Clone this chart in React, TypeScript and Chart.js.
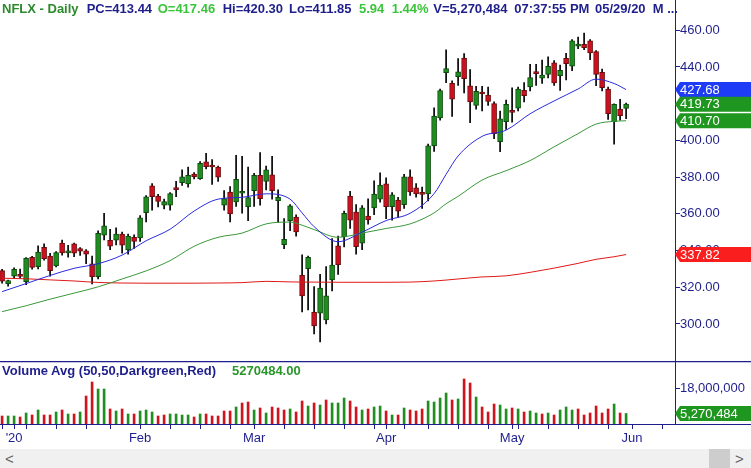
import React, { useEffect, useRef } from "react";
import { Chart, registerables } from "chart.js";
Chart.register(...registerables);

// ---------- data ----------
const opens = [
  329.0, 322.0, 326.0, 326.8, 323.0, 336.3, 331.2, 341.8, 337.0, 331.6,
  344.0, 338.7, 343.6, 341.0, 339.8, 332.7, 325.8, 348.3, 345.6, 345.6,
  349.0, 340.3, 347.2, 346.9, 360.6, 375.2, 369.7, 364.7, 364.7, 373.5,
  377.0, 376.3, 381.7, 379.2, 388.3, 386.0, 385.4, 364.7, 371.9, 366.5,
  371.2, 363.9, 372.6, 381.0, 377.7, 381.3, 367.2, 343.2, 356.3, 358.2,
  326.5, 330.1, 306.5, 305.8, 302.2, 324.0, 342.5, 347.4, 369.7, 361.0,
  344.0, 358.8, 363.2, 368.0, 376.3, 363.9, 367.5, 365.0, 380.2, 374.1,
  371.5, 370.8, 397.0, 412.3, 436.9, 431.1, 434.7, 444.9, 429.7, 419.1,
  426.0, 424.7, 420.0, 399.3, 410.2, 416.0, 417.5, 427.3, 429.1, 436.8,
  433.9, 436.0, 442.2, 435.3, 444.7, 440.4, 451.4, 452.4, 454.2, 448.4,
  437.1, 428.0, 410.2, 417.1, 417.46,
];
const highs = [
  329.8, 323.9, 330.5, 329.9, 336.2, 336.8, 342.5, 343.6, 338.5, 339.4,
  345.7, 342.8, 344.0, 341.6, 340.5, 337.0, 350.7, 360.2, 351.6, 352.3,
  350.0, 349.0, 348.5, 359.0, 370.0, 376.5, 370.6, 368.0, 371.5, 377.7,
  384.0, 385.4, 382.5, 388.5, 393.0, 389.5, 386.0, 372.7, 374.8, 391.9,
  391.3, 385.4, 382.0, 393.4, 386.0, 391.3, 373.0, 357.4, 365.0, 359.5,
  337.6, 337.0, 320.3, 327.0, 331.2, 346.5, 347.8, 361.5, 372.2, 365.0,
  364.5, 368.2, 378.0, 382.3, 379.6, 371.5, 369.0, 381.5, 384.0, 376.5,
  374.5, 398.0, 417.7, 428.0, 449.3, 432.5, 444.6, 447.3, 438.6, 429.5,
  429.5, 429.1, 421.0, 416.0, 422.0, 428.7, 429.0, 431.5, 441.5, 441.4,
  443.8, 445.5, 443.5, 441.0, 447.5, 455.0, 456.3, 458.5, 455.0, 449.0,
  438.8, 429.0, 419.9, 422.4, 420.30,
];
const lows = [
  322.2, 320.6, 325.2, 325.0, 321.4, 329.9, 330.0, 334.8, 326.0, 331.0,
  337.5, 336.4, 336.7, 337.3, 332.8, 321.8, 324.5, 345.8, 340.5, 343.0,
  338.5, 338.0, 341.2, 345.0, 355.6, 362.0, 363.7, 362.7, 362.0, 369.3,
  375.5, 374.5, 379.0, 378.8, 384.5, 376.0, 377.6, 362.0, 355.6, 364.0,
  360.3, 356.3, 364.0, 364.7, 373.0, 368.0, 355.3, 341.0, 350.8, 347.8,
  306.5, 307.7, 294.6, 290.2, 300.0, 318.0, 327.0, 342.0, 352.0, 338.0,
  340.5, 354.3, 359.5, 366.4, 357.4, 356.6, 358.0, 363.0, 370.0, 369.0,
  363.0, 367.0, 394.0, 411.0, 431.5, 413.0, 430.0, 425.9, 409.6, 417.0,
  416.0, 419.0, 401.0, 393.9, 406.0, 410.0, 416.0, 421.0, 427.0, 430.0,
  431.0, 434.0, 430.0, 427.3, 433.0, 438.0, 450.0, 449.5, 444.0, 429.8,
  427.0, 411.4, 397.9, 411.0, 411.85,
];
const closes = [
  323.3, 323.6, 329.8, 325.9, 335.8, 330.8, 339.2, 335.5, 329.0, 338.9,
  338.7, 339.2, 338.5, 339.6, 338.0, 325.8, 349.4, 353.4, 342.4, 348.9,
  342.9, 347.9, 345.0, 357.8, 369.3, 369.4, 366.8, 366.6, 371.0, 373.2,
  380.2, 381.0, 380.2, 387.5, 385.7, 385.5, 379.9, 368.3, 360.0, 378.8,
  371.7, 368.9, 381.0, 368.3, 383.9, 372.6, 369.0, 346.1, 364.3, 350.1,
  315.3, 336.3, 298.9, 319.6, 315.3, 332.0, 332.3, 360.2, 356.6, 342.1,
  363.2, 356.7, 370.8, 375.6, 363.9, 370.4, 361.4, 380.2, 371.9, 370.8,
  370.6, 397.0, 413.3, 427.1, 439.1, 422.4, 437.3, 433.6, 421.0, 426.8,
  425.3, 421.3, 403.7, 411.7, 419.7, 415.3, 428.0, 424.4, 434.2, 436.4,
  435.6, 440.4, 431.3, 438.2, 441.8, 454.2, 452.4, 450.5, 447.6, 436.0,
  428.7, 414.6, 419.7, 413.44, 419.73,
];
const closeBeforeFirst = 329.09;
// volume in millions of shares
const volumesM = [
  4.0, 4.0, 4.0, 3.5, 5.5, 4.5, 7.0, 4.5, 4.5, 6.0,
  7.0, 5.0, 5.0, 6.0, 14.0, 21.0, 17.5, 17.5, 7.5, 6.5,
  7.5, 5.0, 5.0, 6.5, 7.0, 6.0, 4.0, 4.5, 5.0, 5.0,
  4.5, 4.5, 3.5, 5.0, 5.0, 4.0, 4.0, 6.5, 6.5, 8.5,
  10.5, 11.0, 7.0, 8.0, 5.5, 8.5, 8.0, 7.0, 7.5, 6.0,
  11.5, 9.0, 10.5, 9.5, 12.0, 10.5, 10.5, 13.0, 11.5, 8.5,
  7.0, 7.5, 8.5, 9.0, 6.5, 4.5, 4.5, 8.0, 7.0, 6.5,
  7.5, 11.5, 11.0, 13.0, 15.5, 12.0, 12.5, 22.5, 20.5, 13.5,
  8.5, 6.0, 10.0, 9.5, 7.5, 8.0, 7.5, 6.0, 6.5, 5.5,
  5.0, 5.5, 4.5, 7.0, 8.5, 7.0, 7.5, 4.5, 5.5, 9.0,
  5.5, 7.5, 10.0, 5.5, 5.270484,
];
// moving averages read at these trading-day indices
const maIdx = [0, 4, 8, 12, 16, 20, 24, 28, 32, 36, 40, 44, 48, 50, 52, 56, 60, 64, 68, 72, 74, 76, 80, 84, 88, 92, 96, 99, 102, 104];
const sma20 = [317.6, 322.0, 326.4, 330.3, 332.8, 337.5, 345.3, 351.6, 361.5, 368.0, 369.0, 370.9, 368.0, 360.5, 353.0, 344.8, 350.0, 356.3, 360.3, 371.0, 381.5, 391.5, 402.2, 405.6, 414.5, 421.5, 428.0, 433.4, 431.0, 427.68];
const sma50 = [306.7, 309.9, 313.5, 316.8, 320.2, 324.5, 328.9, 334.5, 342.3, 347.2, 349.5, 354.5, 355.5, 353.8, 351.4, 347.2, 349.5, 352.0, 354.5, 360.5, 365.5, 369.5, 378.4, 383.5, 389.0, 396.5, 403.7, 408.9, 410.4, 410.70];
const sma200 = [324.9, 324.6, 324.0, 323.4, 322.6, 322.3, 322.2, 322.2, 322.2, 322.3, 322.5, 323.2, 322.9, 322.8, 322.8, 322.7, 322.7, 322.7, 322.8, 323.4, 323.9, 324.5, 325.6, 326.2, 328.1, 330.4, 333.0, 335.2, 336.6, 337.82];

const priceTicks = [300, 320, 340, 360, 380, 400, 420, 440, 460];
const volumeTicks = [18000000];
const weekTickIdx = [0, 2, 4, 9, 14, 18, 23, 28, 33, 38, 42, 47, 52, 57, 62, 64, 67, 71, 76, 81, 85, 86, 91, 96, 101, 105, 110];
const monthIdx = [2, 23, 42, 64, 85, 105];
const monthText = ["'20", "Feb", "Mar", "Apr", "May", "Jun"];
const tagValues = [427.68, 419.73, 410.7, 337.82];

const headerParts = [
  "NFLX - Daily", "PC=413.44", "O=417.46", "Hi=420.30", "Lo=411.85",
  "5.94", "1.44%", "V=5,270,484", "07:37:55 PM", "05/29/20", "M ...",
];
const volumeTitle = "Volume Avg (50,50,Darkgreen,Red)";
const volumeAvgText = "5270484.00";

// ---------- styles ----------
const NAVY = "#1f1f8c";
const FONT = '"Liberation Sans", Arial, sans-serif';
const headerX = [2, 86.7, 157.7, 222.7, 289, 359, 391.7, 433.3, 514.3, 595, 652.7];
const headerColors = ["#2b8a2b", NAVY, "#3cc43c", NAVY, NAVY, "#3cc43c", "#3cc43c", NAVY, NAVY, NAVY, NAVY];
const tagColors = ["#1e3cf5", "#1f961f", "#1f961f", "#fa1e1e"];
const UP = "#1e8c1e", UP_EDGE = "#0b4a0b", DN = "#cc1020", DN_EDGE = "#6a0a0a";
const X_MIN = -0.35, X_MAX = 112.15;
const Y_MIN = 279.8, Y_MAX = 476.5;
const V_MAX = 31500000;

function drawTag(ctx: CanvasRenderingContext2D, x0: number, x1: number, y: number, color: string, text: string) {
  const h = 15;
  ctx.save();
  ctx.fillStyle = color;
  ctx.beginPath();
  ctx.moveTo(x0, y);
  ctx.lineTo(x0 + 5, y - h / 2);
  ctx.lineTo(x1, y - h / 2);
  ctx.lineTo(x1, y + h / 2);
  ctx.lineTo(x0 + 5, y + h / 2);
  ctx.closePath();
  ctx.fill();
  ctx.fillStyle = "#ffffff";
  ctx.font = `13px ${FONT}`;
  ctx.textAlign = "left";
  ctx.textBaseline = "middle";
  ctx.fillText(text, x0 + 5, y + 0.5);
  ctx.restore();
}

export default function App() {
  const priceRef = useRef<HTMLCanvasElement>(null);
  const volRef = useRef<HTMLCanvasElement>(null);

  useEffect(() => {
    document.body.style.margin = "0";
    const idx = closes.map((_, i) => i);
    const isUp = (i: number) => closes[i] >= (i === 0 ? closeBeforeFirst : closes[i - 1]);

    const priceTags = {
      id: "priceTags",
      afterDraw(chart: any) {
        const ys = chart.scales.y;
        tagValues.forEach((v, k) =>
          drawTag(chart.ctx, chart.chartArea.right, chart.width, ys.getPixelForValue(v), tagColors[k], v.toFixed(2))
        );
      },
    };

    const priceChart = new Chart(priceRef.current!, {
      type: "bar",
      data: {
        datasets: [
          {
            type: "line",
            data: maIdx.map((k, j) => ({ x: k, y: sma20[j] })),
            borderColor: "#2a2ae0",
            borderWidth: 1,
            pointRadius: 0,
            cubicInterpolationMode: "monotone",
            order: 0,
          } as any,
          {
            type: "line",
            data: maIdx.map((k, j) => ({ x: k, y: sma50[j] })),
            borderColor: "#3a983a",
            borderWidth: 1,
            pointRadius: 0,
            cubicInterpolationMode: "monotone",
            order: 0,
          } as any,
          {
            type: "line",
            data: maIdx.map((k, j) => ({ x: k, y: sma200[j] })),
            borderColor: "#e01818",
            borderWidth: 1,
            pointRadius: 0,
            cubicInterpolationMode: "monotone",
            order: 0,
          } as any,
          {
            type: "bar",
            data: idx.map((i) => ({ x: i, y: [opens[i], closes[i]] })),
            backgroundColor: idx.map((i) => (closes[i] >= opens[i] ? UP : DN)),
            borderColor: idx.map((i) => (closes[i] >= opens[i] ? UP_EDGE : DN_EDGE)),
            borderWidth: 1,
            borderSkipped: false,
            barThickness: 5,
            minBarLength: 2,
            grouped: false,
            order: 1,
          } as any,
          {
            type: "bar",
            data: idx.map((i) => ({ x: i, y: [lows[i], highs[i]] })),
            backgroundColor: "#000000",
            barThickness: 1,
            grouped: false,
            order: 2,
          } as any,
        ],
      },
      options: {
        animation: false,
        responsive: false,
        maintainAspectRatio: false,
        layout: { padding: 0 },
        plugins: { legend: { display: false }, tooltip: { enabled: false } },
        scales: {
          x: { type: "linear", min: X_MIN, max: X_MAX, display: false, offset: false, grid: { offset: false } },
          y: {
            type: "linear",
            position: "right",
            min: Y_MIN,
            max: Y_MAX,
            afterBuildTicks: (s: any) => { s.ticks = priceTicks.map((v) => ({ value: v })); },
            afterFit: (s: any) => { s.width = 76; s.paddingTop = 0; s.paddingBottom = 0; },
            border: { display: true, color: NAVY, width: 1 },
            grid: { display: true, drawOnChartArea: false, drawTicks: true, tickLength: 5, color: NAVY },
            ticks: {
              padding: 0,
              color: NAVY,
              font: { family: FONT, size: 13 },
              callback: (v: any) => Number(v).toFixed(2),
            },
          },
        },
      } as any,
      plugins: [priceTags],
    });

    const volDecor = {
      id: "volDecor",
      afterDraw(chart: any) {
        const ctx = chart.ctx;
        const a = chart.chartArea;
        ctx.save();
        ctx.strokeStyle = NAVY;
        ctx.lineWidth = 1.2;
        ctx.beginPath();
        ctx.moveTo(0, 0.6);
        ctx.lineTo(chart.width, 0.6);
        ctx.moveTo(0, a.bottom + 0.5);
        ctx.lineTo(chart.width, a.bottom + 0.5);
        ctx.stroke();
        ctx.restore();
        const last = volumesM[volumesM.length - 1] * 1e6;
        drawTag(ctx, a.right, chart.width, chart.scales.y.getPixelForValue(last), "#1f961f",
          Math.round(last).toLocaleString("en-US"));
      },
    };

    const volChart = new Chart(volRef.current!, {
      type: "bar",
      data: {
        datasets: [
          {
            data: idx.map((i) => ({ x: i, y: volumesM[i] * 1e6 })),
            backgroundColor: idx.map((i) => (isUp(i) ? "#1f8f1f" : "#d0141e")),
            barThickness: 2,
            grouped: false,
          } as any,
        ],
      },
      options: {
        animation: false,
        responsive: false,
        maintainAspectRatio: false,
        layout: { padding: 0 },
        plugins: { legend: { display: false }, tooltip: { enabled: false } },
        scales: {
          x: {
            type: "linear",
            min: X_MIN,
            max: X_MAX,
            offset: false,
            afterBuildTicks: (s: any) => { s.ticks = weekTickIdx.map((v) => ({ value: v })); },
            afterFit: (s: any) => { s.height = 25; s.paddingLeft = 0; s.paddingRight = 0; },
            border: { display: false },
            grid: { display: true, offset: false, drawOnChartArea: false, drawTicks: true, tickLength: 5, color: NAVY },
            ticks: {
              autoSkip: false,
              maxRotation: 0,
              padding: 2,
              color: NAVY,
              font: { family: FONT, size: 13 },
              callback: (v: any) => {
                const k = monthIdx.indexOf(Number(v));
                return k >= 0 ? monthText[k] : "";
              },
            },
          },
          y: {
            type: "linear",
            position: "right",
            min: 0,
            max: V_MAX,
            afterBuildTicks: (s: any) => { s.ticks = volumeTicks.map((v) => ({ value: v })); },
            afterFit: (s: any) => { s.width = 76; s.paddingTop = 0; s.paddingBottom = 0; },
            border: { display: true, color: NAVY, width: 1 },
            grid: { display: true, drawOnChartArea: false, drawTicks: true, tickLength: 5, color: NAVY },
            ticks: {
              padding: 0,
              color: NAVY,
              font: { family: FONT, size: 13 },
              callback: (v: any) => Number(v).toLocaleString("en-US"),
            },
          },
        },
      } as any,
      plugins: [volDecor],
    });

    return () => {
      priceChart.destroy();
      volChart.destroy();
    };
  }, []);

  const bold: React.CSSProperties = {
    position: "absolute",
    fontFamily: FONT,
    fontWeight: "bold",
    fontSize: 13,
    lineHeight: "15px",
    whiteSpace: "nowrap",
  };

  return (
    <div style={{ position: "relative", width: 751, height: 468, overflow: "hidden", background: "#ffffff" }}>
      <canvas ref={priceRef} width={751} height={361} style={{ position: "absolute", left: 0, top: 0, width: 751, height: 361 }} />
      <canvas ref={volRef} width={751} height={88} style={{ position: "absolute", left: 0, top: 361, width: 751, height: 88 }} />
      {headerParts.map((t, k) => (
        <span key={k} style={{ ...bold, left: headerX[k], top: 1, color: headerColors[k] }}>{t}</span>
      ))}
      <span style={{ ...bold, left: 2, top: 363, color: NAVY }}>{volumeTitle}</span>
      <span style={{ ...bold, left: 232, top: 363, color: "#2a962a" }}>{volumeAvgText}</span>
      <div style={{ position: "absolute", left: 0, top: 449, width: 751, height: 19, background: "#f0f0f0" }}>
        <div style={{ position: "absolute", left: 709, top: 0, width: 21, height: 19, background: "#cdcdcd" }} />
        <span style={{ position: "absolute", left: 5, top: 1, fontFamily: FONT, fontSize: 15, lineHeight: "17px", color: "#606060" }}>&lt;</span>
        <span style={{ position: "absolute", left: 735, top: 1, fontFamily: FONT, fontSize: 15, lineHeight: "17px", color: "#606060" }}>&gt;</span>
      </div>
    </div>
  );
}
